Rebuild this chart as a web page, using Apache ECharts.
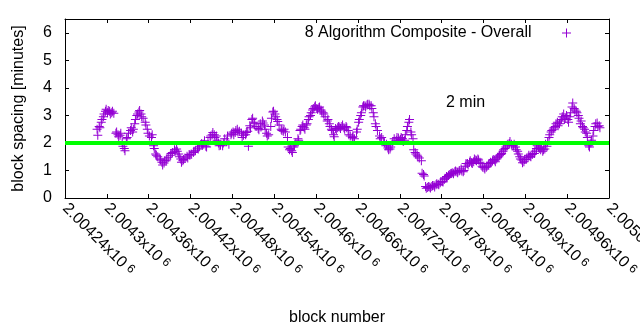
<!DOCTYPE html>
<html><head><meta charset="utf-8">
<script src="https://cdn.jsdelivr.net/npm/echarts@6/dist/echarts.min.js"></script>
<style>html,body{margin:0;padding:0;background:#fff}#c{width:640px;height:330px}</style>
</head><body><div id="c"></div>
<script>
const seriesName = '8 Algorithm Composite - Overall';
const refLabel = '2 min';
const refValue = 2;
const xName = 'block number';
const yName = 'block spacing [minutes]';
const xMin = 2004240, xMax = 2005020, xStep = 60;
const yMin = 0, yMax = 6.5, yStep = 1;

// [block number, block spacing in minutes]
const spacingA = [
[2004286,2.5],[2004289,2.6],[2004292,2.75],[2004295,2.95],[2004298,3.15],[2004301,3.1],[2004304,3.15],[2004307,3.1],[2004310,3.08],
[2004313,2.35],[2004316,2.3],[2004319,2.28],[2004322,2.0],[2004325,1.8],[2004328,2.15],[2004331,2.35],[2004334,2.45],[2004337,2.4],
[2004340,2.7],[2004343,3.0],[2004346,3.12],[2004349,3.05],[2004352,2.9],[2004355,2.75],[2004358,2.5],[2004361,2.25],[2004364,2.2],
[2004367,1.9],[2004370,1.6],[2004373,1.5],[2004376,1.42],[2004379,1.3],[2004382,1.27],[2004385,1.35],[2004388,1.48],[2004391,1.55],
[2004394,1.65],[2004397,1.75],[2004400,1.78],[2004403,1.6],[2004406,1.42],[2004409,1.35],[2004412,1.45],[2004415,1.52],[2004418,1.58],
[2004421,1.6],[2004424,1.65],[2004427,1.72],[2004430,1.82],[2004433,1.88],[2004436,1.98],[2004439,1.95],[2004442,1.88],[2004445,2.05],
[2004448,2.2],[2004451,2.3],[2004454,2.3],[2004457,2.25],[2004460,2.0],[2004463,1.92],[2004466,1.9],[2004469,2.15],[2004472,2.05],
[2004475,1.95],[2004478,2.3],[2004481,2.4],[2004484,2.38],[2004487,2.5],[2004490,2.42],[2004493,2.35],[2004496,2.28],[2004499,2.3],
[2004502,2.42],[2004505,2.62],[2004508,2.85],[2004511,2.75],[2004514,2.6],[2004517,2.52],[2004520,2.7],[2004523,2.8],[2004526,2.65],
[2004529,2.35],[2004532,2.3],[2004535,2.6],[2004538,3.12],[2004541,3.05],[2004544,2.85],[2004547,2.65],[2004550,2.5],[2004553,2.42],
[2004556,2.4],[2004559,2.2],[2004562,1.75],[2004565,1.72],[2004568,1.85],[2004571,2.0],[2004574,2.15],[2004577,2.45],[2004580,2.6],
[2004583,2.55],[2004586,2.65],[2004589,2.85],[2004592,3.0],[2004595,3.2],[2004598,3.3],[2004601,3.25],[2004604,3.28],[2004607,3.2],
[2004610,3.1],[2004613,2.95],[2004616,2.8],[2004619,2.7],[2004622,2.5],[2004625,2.3],[2004628,2.52],[2004631,2.55],[2004634,2.58],
[2004637,2.6],[2004640,2.55],[2004643,2.6],[2004646,2.45],[2004649,2.25],[2004652,2.2],[2004655,2.15],[2004658,2.4],[2004661,2.75],
[2004664,3.0],[2004667,3.3],[2004670,3.35],[2004673,3.38],[2004676,3.4],[2004679,3.35],[2004682,3.1],[2004685,2.7],[2004688,2.45],
[2004691,2.25],[2004694,2.2],[2004697,2.05],[2004700,1.9],[2004703,1.82],[2004706,1.78],[2004709,1.95],[2004712,2.15],[2004715,2.1],
[2004718,2.18],[2004721,2.12],[2004724,2.15],[2004727,2.1],[2004730,2.45],[2004733,2.75],[2004736,2.4],[2004739,2.15],[2004742,1.65],
[2004745,1.55],[2004748,1.45],[2004751,1.35],[2004754,0.85],[2004757,0.42],[2004760,0.38],[2004763,0.4],[2004766,0.42],[2004769,0.45],
[2004772,0.48],[2004775,0.5],[2004778,0.55],[2004781,0.6],[2004784,0.68],[2004787,0.78],[2004790,0.82],[2004793,0.88],[2004796,0.92],
[2004799,0.95],[2004802,0.95],[2004805,0.98],[2004808,1.05],[2004811,0.95],[2004814,1.15],[2004817,1.25],[2004820,1.3],[2004823,1.28],
[2004826,1.32],[2004829,1.38],[2004832,1.42],[2004835,1.3],[2004838,1.15],[2004841,1.1],[2004844,1.12],[2004847,1.2],[2004850,1.3],
[2004853,1.35],[2004856,1.38],[2004859,1.42],[2004862,1.5],[2004865,1.58],[2004868,1.7],[2004871,1.8],[2004874,1.92],[2004877,1.98],
[2004880,1.95],[2004883,1.9],[2004886,1.85],[2004889,1.7],[2004892,1.5],[2004895,1.38],[2004898,1.32],[2004901,1.4],[2004904,1.48],
[2004907,1.52],[2004910,1.58],[2004913,1.62],[2004916,1.8],[2004919,1.85],[2004922,1.75],[2004925,1.7],[2004928,1.78],[2004931,1.88],
[2004934,2.2],[2004937,2.4],[2004940,2.5],[2004943,2.6],[2004946,2.75],[2004949,2.7],[2004952,2.85],[2004955,3.05],[2004958,2.9],
[2004961,2.85],[2004964,2.95],[2004967,3.3],[2004970,3.25],[2004973,3.15],[2004976,3.0],[2004979,2.7],[2004982,2.6],[2004985,2.5],
[2004988,2.35],[2004991,1.9],[2004994,2.0],[2004997,2.25],[2005000,2.6],[2005003,2.72],[2005006,2.62]
];
const spacingB = [
[2004287,2.28],[2004290,2.55],[2004293,2.85],[2004296,3.05],[2004299,3.22],[2004302,3.18],[2004305,3.05],[2004308,3.15],[2004314,2.4],
[2004317,2.22],[2004320,2.35],[2004323,1.88],[2004326,1.72],[2004329,2.2],[2004335,2.55],[2004338,2.5],[2004341,2.85],[2004344,3.05],
[2004347,3.18],[2004350,2.95],[2004356,2.65],[2004359,2.35],[2004365,2.3],[2004368,1.8],[2004371,1.55],[2004377,1.38],[2004380,1.2],
[2004383,1.35],[2004386,1.42],[2004392,1.62],[2004398,1.7],[2004401,1.7],[2004404,1.5],[2004407,1.3],[2004410,1.4],[2004416,1.45],
[2004419,1.55],[2004425,1.7],[2004431,1.78],[2004437,1.92],[2004440,2.08],[2004443,1.85],[2004449,2.25],[2004452,2.38],[2004455,2.2],
[2004458,2.1],[2004461,1.9],[2004467,2.0],[2004473,2.25],[2004479,2.35],[2004482,2.3],[2004485,2.45],[2004488,2.4],[2004494,2.2],
[2004500,2.38],[2004503,1.88],[2004506,2.55],[2004509,2.9],[2004512,2.7],[2004518,2.48],[2004521,2.58],[2004524,2.72],[2004527,2.5],
[2004530,2.25],[2004536,2.9],[2004539,3.15],[2004542,2.95],[2004545,2.78],[2004551,2.45],[2004554,2.5],[2004560,1.85],[2004563,1.8],
[2004566,1.65],[2004569,1.9],[2004575,2.1],[2004578,2.5],[2004581,2.65],[2004584,2.5],[2004587,2.7],[2004590,2.95],[2004593,3.1],
[2004596,3.25],[2004599,3.35],[2004602,3.22],[2004605,3.3],[2004608,3.15],[2004611,3.05],[2004617,2.85],[2004620,2.6],[2004623,2.45],
[2004626,2.22],[2004629,2.48],[2004632,2.6],[2004635,2.52],[2004638,2.65],[2004641,2.5],[2004644,2.55],[2004647,2.3],[2004653,2.22],
[2004659,2.5],[2004662,2.85],[2004665,3.1],[2004668,3.35],[2004671,3.3],[2004674,3.4],[2004677,3.35],[2004680,3.25],[2004683,2.95],
[2004686,2.6],[2004692,2.15],[2004698,2.0],[2004701,1.95],[2004704,1.75],[2004707,1.85],[2004710,2.05],[2004716,2.2],[2004719,2.1],
[2004722,2.2],[2004725,2.05],[2004728,2.3],[2004731,2.6],[2004734,2.85],[2004737,2.3],[2004740,1.75],[2004743,1.6],[2004746,1.5],
[2004752,0.9],[2004755,0.8],[2004758,0.35],[2004761,0.42],[2004764,0.36],[2004767,0.45],[2004770,0.4],[2004773,0.52],[2004776,0.48],
[2004779,0.6],[2004782,0.58],[2004785,0.72],[2004788,0.75],[2004791,0.85],[2004794,0.9],[2004797,0.88],[2004800,0.98],[2004803,0.92],
[2004806,1.0],[2004809,0.98],[2004812,1.0],[2004815,1.25],[2004818,1.2],[2004821,1.35],[2004824,1.25],[2004827,1.42],[2004830,1.35],
[2004833,1.38],[2004836,1.25],[2004839,1.12],[2004842,1.05],[2004845,1.15],[2004848,1.25],[2004851,1.28],[2004854,1.4],[2004857,1.32],
[2004860,1.48],[2004863,1.55],[2004866,1.62],[2004869,1.75],[2004872,1.85],[2004875,1.95],[2004878,2.05],[2004881,1.9],[2004884,1.95],
[2004887,1.75],[2004890,1.6],[2004893,1.42],[2004896,1.28],[2004899,1.4],[2004902,1.45],[2004905,1.55],[2004908,1.5],[2004911,1.62],
[2004914,1.7],[2004917,1.9],[2004920,1.8],[2004923,1.82],[2004926,1.75],[2004929,1.95],[2004932,2.05],[2004935,2.3],[2004938,2.45],
[2004941,2.55],[2004944,2.7],[2004947,2.62],[2004950,2.8],[2004953,2.95],[2004956,2.85],[2004959,3.0],[2004962,2.75],[2004965,3.1],
[2004968,3.45],[2004971,3.2],[2004974,3.1],[2004977,2.9],[2004980,2.8],[2004983,2.55],[2004986,2.4],[2004989,2.2],[2004992,1.85],
[2004995,2.1],[2004998,2.45],[2005001,2.7],[2005004,2.6],[2005007,2.55]
];

const FONT = 'Liberation Sans';
const plus = 'path://M4,0H5V9H4Z M0,4H9V5H0Z';
const fmtX = v => '{m|' + String(parseFloat((v / 1e6).toFixed(5))) + 'x10}{e|6}';
const axisBase = {
  type: 'value',
  axisLine: { show: true, onZero: false, lineStyle: { color: '#000', width: 1 } },
  axisTick: { show: true, inside: true, length: 4, lineStyle: { color: '#000' } },
  splitLine: { show: false }
};
const chart = echarts.init(document.getElementById('c'));
chart.setOption({
  animation: false,
  backgroundColor: '#fff',
  grid: { left: 65, right: 31, top: 19, bottom: 132, outerBoundsMode: 'none', containLabel: false },
  legend: {
    right: 64, top: 20, align: 'right', itemWidth: 60, itemHeight: 9, itemGap: 0,
    symbolKeepAspect: true,
    data: [{ name: seriesName, icon: plus }],
    textStyle: { fontFamily: FONT, fontSize: 16, color: '#000' }
  },
  graphic: [{
    type: 'text', left: 446, top: 95,
    style: { text: refLabel, fontFamily: FONT, fontSize: 16, fill: '#000' }
  }],
  xAxis: [
    Object.assign({}, axisBase, {
      min: xMin, max: xMax, interval: xStep, position: 'bottom',
      name: xName, nameLocation: 'middle', nameGap: 112,
      nameTextStyle: { fontFamily: FONT, fontSize: 16, color: '#000' },
      axisLabel: {
        rotate: -45, margin: 8, color: '#000', formatter: fmtX,
        fontFamily: FONT, fontSize: 16, hideOverlap: false,
        rich: {
          m: { fontFamily: FONT, fontSize: 16, color: '#000' },
          e: { fontFamily: FONT, fontSize: 12, color: '#000', verticalAlign: 'top', padding: [0, 0, 0, 4] }
        }
      }
    }),
    Object.assign({}, axisBase, {
      min: xMin, max: xMax, interval: xStep, position: 'top',
      axisLabel: { show: false }
    })
  ],
  yAxis: [
    Object.assign({}, axisBase, {
      min: yMin, max: yMax, interval: yStep, position: 'left',
      name: yName, nameLocation: 'middle', nameGap: 38,
      nameTextStyle: { fontFamily: FONT, fontSize: 16, color: '#000' },
      axisLabel: {
        margin: 13, color: '#000', fontFamily: FONT, fontSize: 16,
        formatter: v => Number.isInteger(v) ? String(v) : ''
      }
    }),
    Object.assign({}, axisBase, {
      min: yMin, max: yMax, interval: yStep, position: 'right',
      axisLabel: { show: false }
    })
  ],
  series: [{
    name: seriesName, type: 'scatter', xAxisIndex: 0, yAxisIndex: 0,
    symbol: plus, symbolSize: 9,
    itemStyle: { color: '#9400d3', opacity: 1 },
    data: spacingA.concat(spacingB),
    markLine: {
      silent: true, symbol: 'none', animation: false,
      label: { show: false },
      lineStyle: { color: '#00ff00', width: 4, type: 'solid' },
      data: [{ yAxis: refValue }]
    },
    z: 2
  }]
});
</script>
</body></html>
